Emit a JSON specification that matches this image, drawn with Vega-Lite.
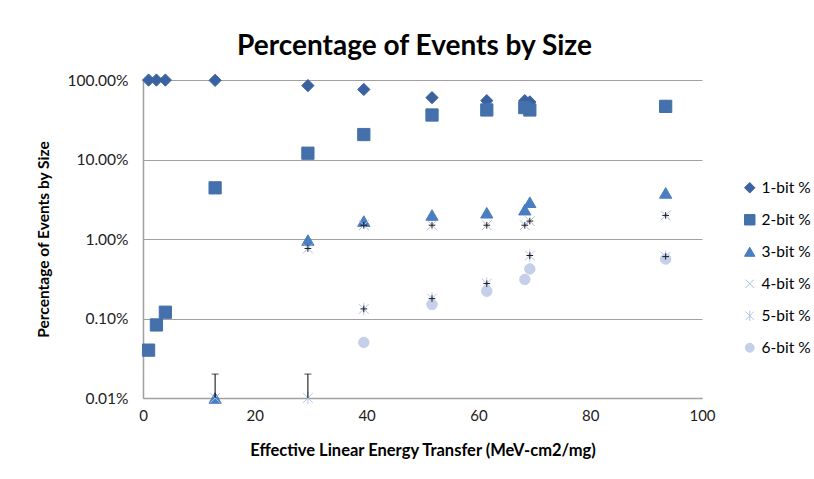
{
  "$schema": "https://vega.github.io/schema/vega-lite/v6.json",
  "width": 559,
  "height": 318,
  "autosize": {"type": "none"},
  "padding": {"left": 143, "top": 80, "right": 112, "bottom": 81},
  "background": "white",
  "title": {"text": "Percentage of Events by Size", "font": "Lato", "fontSize": 28, "fontWeight": "bold", "color": "#000000", "anchor": "middle", "offset": 11, "dx": -8},
  "config": {"view": {"stroke": null}, "font": "Lato"},
  "datasets": {
    "points": [
      {"series": "1-bit %", "let": 1.0, "pct": 0.999},
      {"series": "1-bit %", "let": 2.4, "pct": 0.999},
      {"series": "1-bit %", "let": 4.0, "pct": 0.998},
      {"series": "1-bit %", "let": 12.9, "pct": 0.99},
      {"series": "1-bit %", "let": 29.5, "pct": 0.85},
      {"series": "1-bit %", "let": 39.5, "pct": 0.76},
      {"series": "1-bit %", "let": 51.7, "pct": 0.6},
      {"series": "1-bit %", "let": 61.5, "pct": 0.55},
      {"series": "1-bit %", "let": 68.3, "pct": 0.55},
      {"series": "1-bit %", "let": 69.2, "pct": 0.53},
      {"series": "1-bit %", "let": 93.5, "pct": 0.47},
      {"series": "2-bit %", "let": 1.0, "pct": 0.0004},
      {"series": "2-bit %", "let": 2.4, "pct": 0.00083},
      {"series": "2-bit %", "let": 4.0, "pct": 0.0012},
      {"series": "2-bit %", "let": 12.9, "pct": 0.044},
      {"series": "2-bit %", "let": 29.5, "pct": 0.12},
      {"series": "2-bit %", "let": 39.5, "pct": 0.206},
      {"series": "2-bit %", "let": 51.7, "pct": 0.363},
      {"series": "2-bit %", "let": 61.5, "pct": 0.42},
      {"series": "2-bit %", "let": 68.3, "pct": 0.45},
      {"series": "2-bit %", "let": 69.2, "pct": 0.42},
      {"series": "2-bit %", "let": 93.5, "pct": 0.466},
      {"series": "3-bit %", "let": 12.9, "pct": 0.0001},
      {"series": "3-bit %", "let": 29.5, "pct": 0.0097},
      {"series": "3-bit %", "let": 39.5, "pct": 0.0168},
      {"series": "3-bit %", "let": 51.7, "pct": 0.02},
      {"series": "3-bit %", "let": 61.5, "pct": 0.0214},
      {"series": "3-bit %", "let": 68.3, "pct": 0.0234},
      {"series": "3-bit %", "let": 69.2, "pct": 0.029},
      {"series": "3-bit %", "let": 93.5, "pct": 0.038},
      {"series": "4-bit %", "let": 12.9, "pct": 0.0001},
      {"series": "4-bit %", "let": 29.5, "pct": 0.0076},
      {"series": "4-bit %", "let": 39.5, "pct": 0.0149},
      {"series": "4-bit %", "let": 51.7, "pct": 0.0149},
      {"series": "4-bit %", "let": 61.5, "pct": 0.0149},
      {"series": "4-bit %", "let": 68.3, "pct": 0.0149},
      {"series": "4-bit %", "let": 69.2, "pct": 0.0168},
      {"series": "4-bit %", "let": 93.5, "pct": 0.0198},
      {"series": "5-bit %", "let": 29.5, "pct": 0.0001},
      {"series": "5-bit %", "let": 39.5, "pct": 0.00132},
      {"series": "5-bit %", "let": 51.7, "pct": 0.00178},
      {"series": "5-bit %", "let": 61.5, "pct": 0.00275},
      {"series": "5-bit %", "let": 69.2, "pct": 0.0062},
      {"series": "5-bit %", "let": 93.5, "pct": 0.006},
      {"series": "6-bit %", "let": 39.5, "pct": 0.0005},
      {"series": "6-bit %", "let": 51.7, "pct": 0.0015},
      {"series": "6-bit %", "let": 61.5, "pct": 0.0022},
      {"series": "6-bit %", "let": 68.3, "pct": 0.0031},
      {"series": "6-bit %", "let": 69.2, "pct": 0.0042},
      {"series": "6-bit %", "let": 93.5, "pct": 0.0056}
    ],
    "bigerrors": [
      {"series": "3-bit %", "let": 12.9, "lo": 0.0001, "hi": 0.0002},
      {"series": "5-bit %", "let": 29.5, "lo": 0.0001, "hi": 0.0002}
    ],
    "smallerrors": [
      {"series": "4-bit %", "let": 29.5, "xlo": 28.9, "xhi": 30.1, "pct": 0.0076, "lo": 0.0069, "hi": 0.0084},
      {"series": "4-bit %", "let": 39.5, "xlo": 38.9, "xhi": 40.1, "pct": 0.0149, "lo": 0.0135, "hi": 0.0164},
      {"series": "4-bit %", "let": 51.7, "xlo": 51.1, "xhi": 52.3, "pct": 0.0149, "lo": 0.0135, "hi": 0.0164},
      {"series": "4-bit %", "let": 61.5, "xlo": 60.9, "xhi": 62.1, "pct": 0.0149, "lo": 0.0135, "hi": 0.0164},
      {"series": "4-bit %", "let": 68.3, "xlo": 67.7, "xhi": 68.9, "pct": 0.0149, "lo": 0.0135, "hi": 0.0164},
      {"series": "4-bit %", "let": 69.2, "xlo": 68.6, "xhi": 69.8, "pct": 0.0168, "lo": 0.0153, "hi": 0.0185},
      {"series": "4-bit %", "let": 93.5, "xlo": 92.9, "xhi": 94.1, "pct": 0.0198, "lo": 0.018, "hi": 0.0218},
      {"series": "5-bit %", "let": 39.5, "xlo": 38.9, "xhi": 40.1, "pct": 0.00132, "lo": 0.0012, "hi": 0.00145},
      {"series": "5-bit %", "let": 51.7, "xlo": 51.1, "xhi": 52.3, "pct": 0.00178, "lo": 0.00162, "hi": 0.00196},
      {"series": "5-bit %", "let": 61.5, "xlo": 60.9, "xhi": 62.1, "pct": 0.00275, "lo": 0.0025, "hi": 0.003},
      {"series": "5-bit %", "let": 69.2, "xlo": 68.6, "xhi": 69.8, "pct": 0.0062, "lo": 0.0056, "hi": 0.0068},
      {"series": "5-bit %", "let": 93.5, "xlo": 92.9, "xhi": 94.1, "pct": 0.006, "lo": 0.0055, "hi": 0.0066}
    ]
  },
  "layer": [
    {
      "data": {"name": "points"},
      "mark": {"type": "point", "filled": true, "strokeWidth": 1, "opacity": 1, "size": 150},
      "encoding": {
        "x": {
          "field": "let", "type": "quantitative",
          "scale": {"domain": [0, 100], "nice": false, "zero": false},
          "axis": {
            "values": [0, 20, 40, 60, 80, 100], "grid": false, "ticks": false, "labelFlush": false,
            "domainColor": "#a0a0a0", "domainWidth": 1.5,
            "labelFont": "Lato", "labelFontSize": 15, "labelColor": "#222222", "labelPadding": 10,
            "title": "Effective Linear Energy Transfer (MeV-cm2/mg)",
            "titleFont": "Lato", "titleFontSize": 16.5, "titleFontWeight": "bold", "titleColor": "#000000", "titlePadding": 19
          }
        },
        "y": {
          "field": "pct", "type": "quantitative",
          "scale": {"type": "log", "domain": [0.0001, 1], "nice": false},
          "axis": {
            "values": [0.0001, 0.001, 0.01, 0.1, 1], "format": ".2%", "grid": true,
            "gridColor": "#a0a0a0", "gridWidth": 1.2, "ticks": false,
            "domainColor": "#a0a0a0", "domainWidth": 1.5,
            "labelFont": "Lato", "labelFontSize": 15.5, "labelColor": "#222222", "labelPadding": 15,
            "title": "Percentage of Events by Size",
            "titleFont": "Lato", "titleFontSize": 15.5, "titleFontWeight": "bold", "titleColor": "#000000", "titlePadding": 15
          }
        },
        "shape": {
          "field": "series", "type": "nominal",
          "scale": {
            "domain": ["1-bit %", "2-bit %", "3-bit %", "4-bit %", "5-bit %", "6-bit %"],
            "range": ["diamond", "square", "triangle-up", "M-0.8,-0.8L0.8,0.8M-0.8,0.8L0.8,-0.8", "M-0.8,-0.8L0.8,0.8M-0.8,0.8L0.8,-0.8M0,-1L0,1", "M0.85,0A0.85,0.85,0,1,1,-0.85,0A0.85,0.85,0,1,1,0.85,0Z"]
          },
          "legend": {
            "title": null, "orient": "none", "legendX": 599, "legendY": 100,
            "labelFont": "Lato", "labelFontSize": 15.5, "labelColor": "#000000",
            "rowPadding": 15, "gridAlign": "all", "symbolSize": 110, "symbolStrokeWidth": 1, "labelOffset": 4
          }
        },
        "fill": {
          "field": "series", "type": "nominal",
          "scale": {
            "domain": ["1-bit %", "2-bit %", "3-bit %", "4-bit %", "5-bit %", "6-bit %"],
            "range": ["#3a62a0", "#4470ab", "#4a7ec0", "#a8bde5", "#b3c5e8", "#c4cfe9"]
          }
        },
        "stroke": {
          "field": "series", "type": "nominal",
          "scale": {
            "domain": ["1-bit %", "2-bit %", "3-bit %", "4-bit %", "5-bit %", "6-bit %"],
            "range": ["#3a62a0", "#4470ab", "#4a7ec0", "#a8bde5", "#b3c5e8", "#c4cfe9"]
          }
        }
      }
    },
    {
      "data": {"name": "bigerrors"},
      "mark": {"type": "rule", "color": "#000000", "strokeWidth": 1},
      "encoding": {
        "x": {"field": "let", "type": "quantitative"},
        "y": {"field": "lo", "type": "quantitative"},
        "y2": {"field": "hi"}
      }
    },
    {
      "data": {"name": "bigerrors"},
      "mark": {"type": "tick", "orient": "horizontal", "color": "#000000", "thickness": 1, "size": 7},
      "encoding": {
        "x": {"field": "let", "type": "quantitative"},
        "y": {"field": "hi", "type": "quantitative"}
      }
    },
    {
      "data": {"name": "smallerrors"},
      "mark": {"type": "rule", "color": "#1a1a1a", "strokeWidth": 1},
      "encoding": {
        "x": {"field": "let", "type": "quantitative"},
        "y": {"field": "lo", "type": "quantitative"},
        "y2": {"field": "hi"}
      }
    },
    {
      "data": {"name": "smallerrors"},
      "mark": {"type": "rule", "color": "#1a1a1a", "strokeWidth": 1},
      "encoding": {
        "x": {"field": "xlo", "type": "quantitative"},
        "x2": {"field": "xhi"},
        "y": {"field": "pct", "type": "quantitative"}
      }
    }
  ]
}
